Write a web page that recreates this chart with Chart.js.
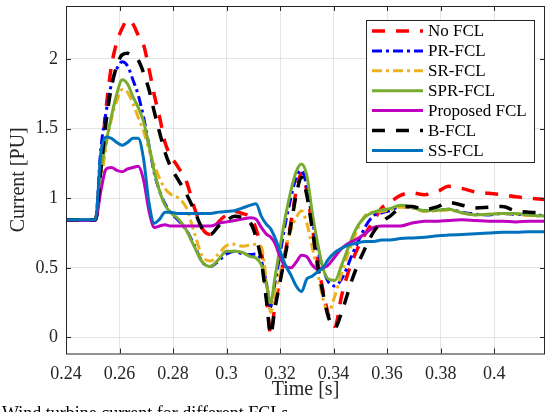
<!DOCTYPE html>
<html>
<head>
<meta charset="utf-8">
<script src="https://cdn.jsdelivr.net/npm/chart.js@4.4.1/dist/chart.umd.min.js"></script>
<style>
  html, body { margin: 0; padding: 0; background: #fff; }
  #wrap { position: relative; width: 545px; height: 412px; overflow: hidden; }
  #fclChart { position: absolute; left: 0; top: 0; }
  #caption { position: absolute; left: 2px; top: 403px; font: 18px 'Liberation Serif', serif; color: #000; white-space: nowrap; }
</style>
</head>
<body>
<div id="wrap">
  <canvas id="fclChart" width="545" height="412"></canvas>
  <div id="caption">Wind turbine current for different FCLs</div>
</div>
<script>
// time samples [s]
const time = [0.24, 0.251, 0.253, 0.255, 0.257, 0.259, 0.261, 0.263, 0.265, 0.267,
  0.269, 0.271, 0.273, 0.275, 0.277, 0.279, 0.282, 0.285, 0.288, 0.291,
  0.294, 0.297, 0.300, 0.303, 0.306, 0.309, 0.311, 0.313, 0.315, 0.3165,
  0.318, 0.320, 0.322, 0.324, 0.326, 0.328, 0.330, 0.332, 0.334, 0.336,
  0.338, 0.3405, 0.343, 0.345, 0.347, 0.349, 0.352, 0.355, 0.358, 0.361,
  0.365, 0.369, 0.374, 0.379, 0.383, 0.388, 0.393, 0.398, 0.403, 0.408,
  0.413, 0.42];

// current [PU] per limiter
const noFcl = [0.845, 0.845, 1.25, 1.65, 1.95, 2.12, 2.22, 2.28, 2.25, 2.17,
  2.10, 1.93, 1.74, 1.58, 1.40, 1.31, 1.22, 1.12, 0.93, 0.78,
  0.74, 0.83, 0.88, 0.905, 0.89, 0.86, 0.78, 0.62, 0.28, 0.03,
  0.22, 0.42, 0.62, 0.82, 1.05, 1.18, 1.05, 0.80, 0.55, 0.34,
  0.17, 0.08, 0.30, 0.44, 0.55, 0.64, 0.75, 0.84, 0.93, 0.97,
  1.02, 1.04, 1.025, 1.05, 1.085, 1.07, 1.045, 1.035, 1.025, 1.01,
  1.0, 0.99];
const prFcl = [0.845, 0.845, 1.35, 1.62, 1.82, 1.93, 1.98, 1.95, 1.85, 1.74,
  1.58, 1.38, 1.18, 1.05, 0.96, 0.90, 0.84, 0.77, 0.66, 0.54,
  0.51, 0.55, 0.60, 0.62, 0.60, 0.595, 0.60, 0.55, 0.38, 0.22,
  0.38, 0.60, 0.82, 1.00, 1.15, 1.20, 1.08, 0.85, 0.64, 0.50,
  0.40, 0.37, 0.42, 0.50, 0.60, 0.68, 0.80, 0.875, 0.895, 0.91,
  0.94, 0.935, 0.91, 0.915, 0.92, 0.90, 0.885, 0.88, 0.89, 0.885,
  0.88, 0.875];
const srFcl = [0.845, 0.845, 1.10, 1.38, 1.57, 1.70, 1.78, 1.76, 1.68, 1.58,
  1.48, 1.35, 1.24, 1.14, 1.07, 1.03, 1.00, 0.93, 0.75, 0.58,
  0.55, 0.60, 0.66, 0.67, 0.655, 0.665, 0.67, 0.65, 0.39, 0.18,
  0.30, 0.46, 0.63, 0.77, 0.86, 0.91, 0.82, 0.65, 0.47, 0.28,
  0.18, 0.30, 0.46, 0.58, 0.68, 0.78, 0.88, 0.90, 0.905, 0.915,
  0.935, 0.93, 0.905, 0.91, 0.915, 0.895, 0.88, 0.885, 0.89, 0.885,
  0.875, 0.87];
const sprFcl = [0.845, 0.845, 1.20, 1.40, 1.59, 1.75, 1.85, 1.82, 1.73, 1.65,
  1.55, 1.38, 1.19, 1.05, 0.95, 0.90, 0.85, 0.77, 0.65, 0.54,
  0.51, 0.56, 0.62, 0.62, 0.61, 0.58, 0.57, 0.52, 0.37, 0.25,
  0.42, 0.65, 0.87, 1.05, 1.19, 1.245, 1.16, 0.90, 0.68, 0.50,
  0.42, 0.41, 0.52, 0.62, 0.72, 0.80, 0.87, 0.90, 0.915, 0.925,
  0.95, 0.94, 0.91, 0.915, 0.92, 0.895, 0.88, 0.885, 0.89, 0.89,
  0.88, 0.87];
const proposedFcl = [0.84, 0.84, 1.05, 1.21, 1.22, 1.20, 1.19, 1.21, 1.22, 1.23,
  1.13, 0.91, 0.79, 0.80, 0.81, 0.80, 0.80, 0.80, 0.80, 0.80,
  0.80, 0.82, 0.83, 0.84, 0.85, 0.86, 0.85, 0.79, 0.74, 0.72,
  0.68, 0.58, 0.51, 0.50, 0.54, 0.59, 0.58, 0.52, 0.49, 0.50,
  0.52, 0.58, 0.64, 0.67, 0.69, 0.71, 0.75, 0.79, 0.80, 0.80,
  0.80, 0.82, 0.835, 0.835, 0.84, 0.845, 0.84, 0.835, 0.835, 0.83,
  0.835, 0.835];
const bFcl = [0.845, 0.845, 1.20, 1.55, 1.80, 1.95, 2.03, 2.04, 2.02, 1.99,
  1.90, 1.78, 1.62, 1.47, 1.33, 1.23, 1.13, 1.03, 0.91, 0.78,
  0.74, 0.80, 0.84, 0.87, 0.86, 0.82, 0.72, 0.55, 0.25, 0.02,
  0.20, 0.40, 0.60, 0.80, 1.02, 1.15, 1.02, 0.78, 0.52, 0.32,
  0.15, 0.07, 0.18, 0.30, 0.42, 0.52, 0.65, 0.76, 0.83, 0.87,
  0.93, 0.94, 0.92, 0.94, 0.97, 0.95, 0.93, 0.935, 0.94, 0.91,
  0.90, 0.895];
const ssFcl = [0.845, 0.845, 1.32, 1.44, 1.43, 1.40, 1.38, 1.40, 1.43, 1.43,
  1.28, 0.97, 0.82, 0.85, 0.90, 0.90, 0.89, 0.89, 0.89, 0.89,
  0.89, 0.90, 0.905, 0.91, 0.93, 0.95, 0.96, 0.87, 0.81, 0.78,
  0.72, 0.62, 0.52, 0.45, 0.37, 0.33, 0.42, 0.44, 0.47, 0.50,
  0.56, 0.61, 0.64, 0.66, 0.67, 0.68, 0.69, 0.69, 0.70, 0.70,
  0.71, 0.715, 0.72, 0.73, 0.735, 0.74, 0.745, 0.75, 0.755, 0.755,
  0.76, 0.76];

const seriesNames = ['No FCL', 'PR-FCL', 'SR-FCL', 'SPR-FCL', 'Proposed FCL', 'B-FCL', 'SS-FCL'];
const xTicks = [0.24, 0.26, 0.28, 0.3, 0.32, 0.34, 0.36, 0.38, 0.4];
const yTicks = [0, 0.5, 1, 1.5, 2];

const SERIF = "'Liberation Serif', 'Times New Roman', serif";

const styles = [
  { color: '#ff0000', width: 3.5, dash: [13, 11] },
  { color: '#0000ff', width: 3, dash: [10, 4, 3, 4] },
  { color: '#EDB120', width: 3, dash: [10, 4, 3, 4] },
  { color: '#77AC30', width: 3, dash: [] },
  { color: '#BF00BF', width: 3, dash: [] },
  { color: '#000000', width: 3.5, dash: [13, 11] },
  { color: '#0072BD', width: 3, dash: [] }
];
const values = [noFcl, prFcl, srFcl, sprFcl, proposedFcl, bFcl, ssFcl];

const datasets = values.map((vals, i) => ({
  label: seriesNames[i],
  data: time.map((t, k) => ({ x: t, y: vals[k] })),
  borderColor: styles[i].color,
  backgroundColor: styles[i].color,
  borderWidth: styles[i].width,
  borderDash: styles[i].dash,
  pointRadius: 0,
  cubicInterpolationMode: 'monotone',
  fill: false,
  order: values.length - i   // later series drawn on top, like MATLAB
}));

// box, inward ticks and legend drawn matlab style
const matlabAxes = {
  id: 'matlabAxes',
  afterDraw(chart) {
    const { ctx, chartArea: a, scales: { x, y } } = chart;
    ctx.save();
    ctx.strokeStyle = '#262626';
    ctx.lineWidth = 1;
    ctx.setLineDash([]);
    ctx.strokeRect(a.left + 0.5, a.top + 0.5, a.right - a.left - 1, a.bottom - a.top);
    ctx.beginPath();
    xTicks.forEach(v => {
      const px = Math.round(x.getPixelForValue(v)) + 0.5;
      ctx.moveTo(px, a.bottom); ctx.lineTo(px, a.bottom - 5);
      ctx.moveTo(px, a.top); ctx.lineTo(px, a.top + 5);
    });
    yTicks.forEach(v => {
      const py = Math.round(y.getPixelForValue(v)) + 0.5;
      ctx.moveTo(a.left, py); ctx.lineTo(a.left + 5, py);
      ctx.moveTo(a.right, py); ctx.lineTo(a.right - 5, py);
    });
    ctx.stroke();

    // legend
    const lx = 366, ly = 20, lw = 168, lh = 142;
    ctx.fillStyle = '#fff';
    ctx.fillRect(lx, ly, lw, lh);
    ctx.strokeStyle = '#262626';
    ctx.strokeRect(lx + 0.5, ly + 0.5, lw, lh);
    ctx.font = '17px ' + SERIF;
    ctx.textBaseline = 'middle';
    ctx.textAlign = 'left';
    chart.data.datasets.forEach((ds, i) => {
      const cy = ly + 11 + i * 19.9;
      ctx.beginPath();
      ctx.strokeStyle = ds.borderColor;
      ctx.lineWidth = ds.borderWidth;
      ctx.setLineDash(ds.borderDash);
      ctx.moveTo(lx + 6, cy);
      ctx.lineTo(lx + 57, cy);
      ctx.stroke();
      ctx.setLineDash([]);
      ctx.fillStyle = '#000';
      ctx.fillText(ds.label, lx + 62, cy + 1);
    });
    ctx.restore();
  }
};

new Chart(document.getElementById('fclChart'), {
  type: 'line',
  data: { datasets: datasets },
  options: {
    responsive: false,
    animation: false,
    events: [],
    layout: { padding: { top: 6, right: 0, left: 0, bottom: 0 } },
    plugins: { legend: { display: false }, tooltip: { enabled: false } },
    scales: {
      x: {
        type: 'linear',
        min: 0.24,
        max: 0.419,
        afterBuildTicks: s => { s.ticks = xTicks.map(v => ({ value: v })); },
        afterFit: s => { s.height = 58.5; s.paddingRight = 0; },
        grid: { color: '#e4e4e4', drawTicks: false },
        border: { display: false },
        ticks: {
          color: '#262626',
          padding: 10,
          maxRotation: 0,
          font: { family: SERIF, size: 18 },
          callback: v => String(v)
        },
        title: {
          display: true,
          text: 'Time [s]',
          color: '#262626',
          font: { family: SERIF, size: 20 },
          padding: { top: 0, bottom: 10 }
        }
      },
      y: {
        type: 'linear',
        min: -0.115,
        max: 2.38,
        afterBuildTicks: s => { s.ticks = yTicks.map(v => ({ value: v })); },
        afterFit: s => { s.width = 66; s.paddingTop = 0; s.paddingBottom = 0; },
        grid: { color: '#e4e4e4', drawTicks: false },
        border: { display: false },
        ticks: {
          color: '#262626',
          padding: 8,
          font: { family: SERIF, size: 18 },
          callback: v => String(v)
        },
        title: {
          display: true,
          text: 'Current [PU]',
          color: '#262626',
          font: { family: SERIF, size: 20 },
          padding: { top: 7, bottom: 0 }
        }
      }
    }
  },
  plugins: [matlabAxes]
});
</script>
</body>
</html>
